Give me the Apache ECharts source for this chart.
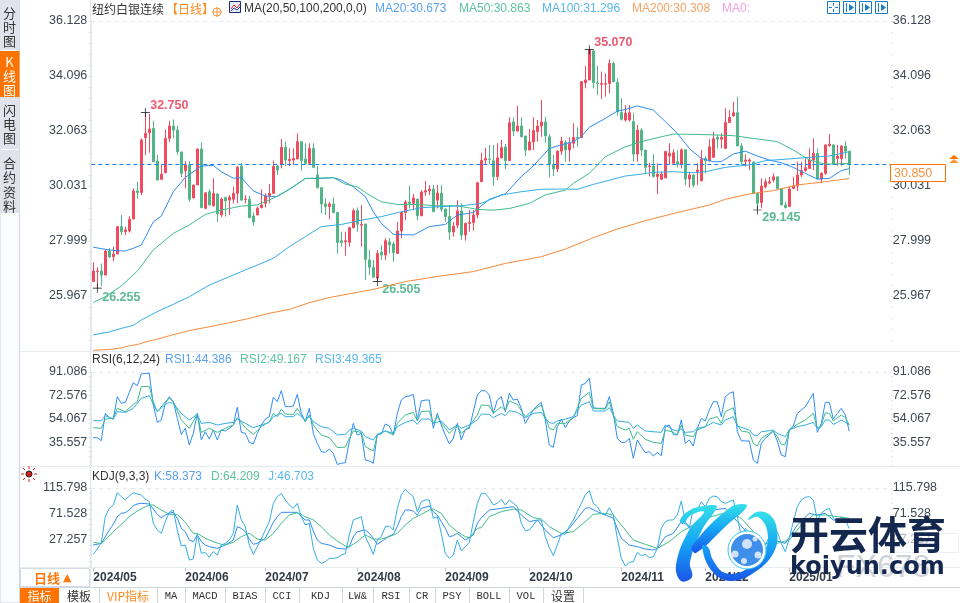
<!DOCTYPE html>
<html>
<head>
<meta charset="utf-8">
<title>纽约白银连续</title>
<style>
html, body { margin: 0; padding: 0; background: #fff; }
#chart { width: 960px; height: 603px; }
</style>
<script src="https://cdn.jsdelivr.net/npm/echarts@6/dist/echarts.min.js"></script>
</head>
<body>
<div id="chart"></div>
<script>
const monthLabels = ["2024/05", "2024/06", "2024/07", "2024/08", "2024/09", "2024/10", "2024/11", "2024/12", "2025/01"];
const monthStarts = [0, 23, 43, 66, 88, 109, 132, 153, 174];
const barCount = 200;

const priceTicks = [36.128, 34.096, 32.063, 30.031, 27.999, 25.967];
const rsiTicks = [91.086, 72.576, 54.067, 35.557];
const kdjTicks = [115.798, 71.528, 27.257];
const lastPrice = 30.85;

const opens = [
  26.50,26.87,26.89,26.74,27.63,27.42,27.52,28.53,28.34,28.37,
  28.81,29.85,29.79,31.82,32.00,32.16,30.95,30.28,30.52,31.79,
  32.25,32.10,31.29,30.60,30.81,29.59,30.07,31.40,29.21,29.82,
  29.30,29.74,28.96,29.60,29.51,29.54,29.76,30.77,29.53,29.54,
  28.92,28.96,29.23,29.39,29.67,29.76,30.77,30.81,31.46,30.97,
  30.99,31.03,31.67,31.03,30.87,31.42,30.44,29.97,29.37,29.27,
  29.37,29.05,28.01,27.97,27.95,28.49,29.12,28.58,28.63,27.30,
  27.03,26.63,27.59,27.48,27.96,27.89,27.54,28.37,29.05,29.44,
  29.39,29.55,28.93,29.81,29.86,29.92,29.51,29.77,29.18,28.90,
  28.33,28.58,29.11,28.22,28.65,28.68,28.96,30.19,30.99,31.03,
  30.96,30.38,31.07,31.47,30.97,32.40,32.06,32.25,31.88,31.36,
  31.66,32.04,32.25,32.40,31.85,30.83,30.66,31.32,31.64,31.36,
  31.61,31.83,31.82,33.85,33.95,35.02,33.84,33.79,33.79,33.82,
  34.56,33.86,32.75,32.47,32.47,32.41,31.21,32.10,31.36,30.75,
  30.77,30.38,30.28,30.33,31.14,30.87,30.93,30.83,31.37,30.29,
  30.44,30.56,30.22,31.05,30.96,31.09,31.83,31.76,31.42,32.38,
  32.62,32.74,31.51,30.95,30.95,30.91,29.76,29.42,30.00,30.14,
  30.25,30.37,29.94,29.33,29.27,29.94,30.03,30.44,30.60,30.68,
  30.99,31.24,30.29,30.50,31.52,31.55,31.05,31.05,31.51,31.32
];
const closes = [
  26.89,26.89,26.74,27.63,27.41,27.52,28.53,28.34,28.41,28.80,
  29.85,29.79,31.73,31.98,32.14,30.93,30.25,30.47,31.79,32.25,
  32.10,31.30,30.50,30.81,29.54,30.07,31.40,29.23,29.78,29.33,
  29.76,29.00,29.55,29.48,29.61,29.76,30.72,29.51,29.55,28.86,
  28.70,29.21,29.33,29.66,29.76,30.75,30.62,31.46,30.99,31.02,
  31.05,31.67,30.97,30.87,31.42,30.72,29.97,29.37,29.27,29.37,
  29.05,27.94,27.94,28.01,28.49,29.12,28.62,28.61,27.32,27.03,
  26.66,27.54,27.48,28.01,27.85,27.57,28.37,29.05,29.44,29.39,
  29.59,28.93,29.81,29.86,29.92,29.08,29.77,29.17,28.90,28.33,
  28.55,29.11,28.22,28.65,28.69,28.96,30.15,30.98,31.05,31.02,
  30.38,31.07,31.45,30.97,32.37,32.06,32.25,31.85,31.36,31.66,
  32.08,32.25,32.40,31.88,30.84,30.66,31.32,31.69,31.36,31.61,
  31.83,31.80,33.89,33.95,35.06,33.85,33.81,33.82,33.81,34.56,
  33.89,32.77,32.50,32.72,32.74,31.21,32.10,31.36,30.72,30.77,
  30.38,30.47,30.47,31.31,31.24,31.26,30.83,31.37,30.29,30.44,
  30.07,30.62,31.02,30.96,31.48,31.78,31.76,31.83,32.38,32.57,
  32.74,31.51,30.93,30.99,30.99,29.76,29.39,30.03,30.19,30.19,
  30.37,29.94,29.33,29.23,29.92,30.03,30.44,30.60,30.71,30.99,
  31.24,30.29,30.50,31.55,31.58,30.83,31.14,31.51,31.32,30.85
];
const highs = [
  27.21,27.03,27.17,27.67,27.73,27.79,28.55,28.96,28.53,28.92,
  29.94,30.19,31.79,32.75,32.70,32.44,31.18,30.81,32.12,32.44,
  32.49,32.26,31.29,30.95,30.95,30.07,31.42,31.64,29.78,29.91,
  30.32,29.74,29.61,29.64,29.70,30.01,30.77,30.89,29.70,29.66,
  29.05,29.27,29.91,29.76,30.10,30.97,30.81,31.77,31.67,31.42,
  31.42,31.98,31.67,31.61,31.61,31.61,30.77,29.97,29.58,29.45,
  29.61,29.05,28.34,28.34,28.53,29.20,29.24,29.33,28.63,27.67,
  27.30,27.67,27.85,28.10,28.10,27.97,28.71,29.05,29.51,30.04,
  29.74,29.55,29.88,30.22,30.07,30.07,30.07,30.07,29.20,29.33,
  28.71,29.51,29.39,28.68,29.14,29.14,30.19,31.26,31.45,31.55,
  31.55,31.61,31.73,31.58,32.57,32.57,32.99,32.57,31.88,32.13,
  32.57,32.47,33.21,32.59,31.95,31.18,31.36,31.85,31.73,31.83,
  32.35,32.20,33.89,34.47,35.07,35.05,34.47,34.26,34.19,34.71,
  34.63,34.01,33.27,33.02,33.02,32.74,32.29,32.16,31.36,30.89,
  31.21,30.87,30.56,31.31,31.61,31.39,31.36,31.42,31.39,30.56,
  30.46,30.87,31.36,31.12,31.76,32.04,31.92,31.98,32.90,32.84,
  33.15,33.33,31.61,31.20,31.05,30.95,29.76,30.31,30.31,30.37,
  30.50,30.37,29.94,29.45,30.01,30.37,30.93,30.93,31.05,31.42,
  31.79,31.42,30.54,31.55,31.95,31.57,31.55,31.55,31.69,31.32
];
const lows = [
  26.50,26.255,26.34,26.74,27.38,27.24,27.52,28.22,28.22,28.31,
  28.81,29.56,29.70,31.18,31.26,30.93,30.25,30.25,30.50,31.66,
  31.79,31.18,30.35,29.94,29.45,29.58,30.07,29.23,29.17,29.33,
  29.27,28.71,28.87,28.90,28.96,29.39,29.39,29.49,29.39,28.84,
  28.57,28.96,29.21,29.24,29.39,29.74,30.44,30.68,30.77,30.77,
  30.81,31.03,30.60,30.81,30.84,30.72,29.94,29.02,28.96,28.80,
  29.02,27.54,27.79,27.46,27.79,28.47,28.34,27.79,26.56,26.74,
  26.66,26.505,27.30,27.30,27.54,27.23,27.54,28.10,28.77,29.20,
  29.14,28.77,28.92,29.67,29.70,29.08,29.20,29.08,28.71,28.04,
  28.16,28.47,28.04,28.01,28.34,28.38,28.84,30.19,30.84,30.84,
  30.04,30.25,31.05,30.66,30.97,31.88,32.04,31.83,31.14,31.36,
  31.36,31.67,31.85,31.61,30.35,30.40,30.54,31.18,30.93,30.93,
  31.42,31.48,31.82,33.64,33.95,33.64,33.39,33.25,33.33,33.46,
  33.86,32.62,32.45,32.41,32.41,30.93,30.93,31.14,30.50,30.38,
  30.35,29.73,30.25,30.33,30.81,30.81,30.72,30.68,30.07,29.98,
  29.98,30.07,30.22,30.50,30.93,31.09,31.42,31.42,31.42,32.38,
  32.59,31.51,30.81,30.75,30.62,29.76,29.145,29.21,29.94,30.09,
  30.17,29.94,29.33,29.21,29.27,29.94,29.85,30.37,30.56,30.68,
  30.62,30.29,30.13,30.44,31.48,30.83,30.78,30.78,31.05,30.44
];

// moving averages at the bars in the *At arrays
const ma20At = [0,3,6,8,10,12,15,17,20,23,27,30,32,35,37,40,43,46,50,53,57,60,62,65,68,70,72,75,80,84,88,91,95,99,103,107,110,114,117,120,122,124,128,131,133,136,140,143,146,149,152,155,157,160,163,166,169,172,175,178,181,184,187,189];
const ma20 = [27.77,27.69,27.64,27.63,27.73,27.85,28.71,28.92,29.82,30.35,30.77,30.79,30.56,30.32,30.34,29.85,29.66,29.64,30.00,30.31,30.31,30.34,30.25,30.00,29.64,29.08,28.65,28.25,28.22,28.53,28.61,28.96,29.05,29.54,29.74,30.38,30.77,31.42,31.55,31.67,31.85,32.20,32.53,32.80,32.86,32.99,32.84,32.41,31.98,31.42,31.05,30.93,30.93,31.21,31.32,31.14,30.99,30.89,30.72,30.50,30.29,30.31,30.60,30.673];
const ma50At = [0,3,7,11,15,20,24,28,32,37,41,45,49,53,60,63,66,69,72,76,81,86,91,96,100,104,109,113,118,120,124,128,133,137,142,145,150,155,160,165,171,175,179,183,189];
const ma50 = [25.73,25.94,26.34,26.89,27.67,28.28,28.59,28.98,29.14,29.29,29.33,29.58,29.91,30.31,30.34,30.10,30.00,29.70,29.45,29.35,29.35,29.30,29.30,29.17,29.14,29.20,29.39,29.70,29.88,30.13,30.50,31.11,31.48,31.67,31.85,31.95,31.94,31.92,31.89,31.79,31.67,31.36,30.99,30.84,30.863];
const ma100At = [0,4,7,10,12,16,20,24,29,34,38,41,45,49,53,57,62,67,72,77,82,87,92,97,102,107,112,117,121,125,133,137,140,145,150,153,158,164,168,173,179,184,189];
const ma100 = [24.53,24.64,24.77,24.88,25.08,25.39,25.66,25.94,26.37,26.68,26.93,27.11,27.36,27.79,28.16,28.53,28.61,28.77,28.90,29.08,29.23,29.27,29.30,29.39,29.70,29.82,29.91,29.92,29.91,30.09,30.40,30.47,30.54,30.56,30.52,30.56,30.72,30.81,30.97,31.02,31.09,31.14,31.296];
const ma200At = [0,4,7,9,11,13,16,19,24,29,34,39,44,49,54,59,67,70,78,87,95,103,112,118,125,131,138,146,154,158,164,170,176,183,189];
const ma200 = [23.96,23.99,24.05,24.13,24.17,24.27,24.37,24.50,24.69,24.83,24.98,25.14,25.33,25.47,25.72,25.91,26.13,26.21,26.50,26.71,26.87,27.17,27.42,27.70,28.12,28.44,28.75,29.05,29.33,29.54,29.74,29.86,30.07,30.19,30.308];

const rsi1 = [
  39.2,39.2,36.8,58.4,55.0,53.9,71.6,66.3,67.1,75.0,
  82.6,80.3,89.5,90.0,90.0,65.0,51.3,53.2,66.3,71.6,
  67.6,54.5,41.8,46.6,33.4,42.6,58.4,37.4,43.9,38.1,
  45.3,37.4,45.3,44.5,46.6,49.2,63.2,43.4,42.6,35.5,
  34.2,42.6,49.2,53.9,55.8,71.1,67.6,76.3,63.7,63.7,
  64.2,73.4,58.4,51.8,62.4,42.6,34.7,28.1,27.6,30.2,
  26.8,18.1,18.9,19.5,36.0,50.5,41.3,42.6,21.6,20.8,
  18.9,41.8,42.1,50.0,48.4,41.3,58.4,68.9,71.6,72.1,
  73.4,53.2,68.2,68.9,68.9,46.6,58.4,49.2,41.3,34.2,
  38.7,50.5,37.4,45.8,46.6,59.7,72.9,76.3,76.3,72.9,
  58.4,68.9,71.6,59.7,74.2,68.9,69.7,62.4,50.5,55.8,
  61.1,64.5,67.1,53.2,33.4,31.6,47.9,53.9,47.1,52.4,
  55.0,56.6,80.8,82.1,86.1,62.9,62.4,62.4,62.4,71.6,
  58.4,38.7,35.5,35.5,38.7,22.9,37.4,32.1,27.4,28.1,
  24.7,27.6,25.0,47.9,49.2,41.8,41.3,53.2,34.7,37.4,
  32.6,46.6,54.5,52.4,61.1,67.6,67.6,55.8,71.6,74.2,
  75.5,43.9,36.8,36.6,36.6,21.6,18.9,34.7,38.7,41.3,
  44.5,36.6,25.5,24.2,45.3,48.4,58.4,61.1,63.7,68.9,
  74.2,43.4,50.5,67.1,67.1,53.9,58.4,62.4,57.1,44.386
];
const rsi2At = [0,2,3,5,6,8,10,11,12,14,15,16,18,19,20,22,24,26,27,29,31,33,35,36,38,40,42,44,45,46,47,48,50,51,53,54,55,57,59,61,63,64,65,67,68,70,71,73,75,76,78,80,81,82,84,85,86,88,89,91,92,94,96,97,99,100,102,103,104,106,108,110,112,113,114,115,116,118,120,122,124,125,128,129,130,131,133,134,135,136,138,140,142,143,145,146,147,148,150,151,153,154,156,157,158,160,161,162,164,165,166,167,169,170,171,172,173,174,176,178,180,181,182,183,184,185,186,187,188,189];
const rsi2 = [47.1,46.6,53.9,54.5,62.4,59.7,65.5,67.6,79.5,79.8,67.6,59.7,67.6,70.3,67.6,53.2,46.6,57.6,43.4,46.6,43.4,46.6,49.2,55.0,47.1,41.8,47.9,51.8,58.4,55.8,61.8,57.9,57.6,62.4,51.8,57.1,49.2,41.3,39.2,31.3,31.8,38.7,44.5,43.4,32.1,28.7,41.3,44.5,41.3,50.5,57.1,59.2,52.4,59.7,60.3,50.5,55.8,46.6,42.6,49.2,42.6,47.9,57.1,65.0,64.5,58.4,63.7,60.5,68.2,65.5,55.8,61.1,65.0,55.8,46.6,45.3,50.5,50.5,55.0,70.3,75.0,62.4,61.8,67.6,57.1,47.9,45.3,46.6,37.9,43.9,37.9,35.5,34.7,45.3,43.4,41.3,49.2,41.3,40.0,45.3,47.9,53.9,55.8,50.5,59.7,62.9,49.2,44.5,43.4,34.7,32.6,38.7,42.6,44.5,40.0,33.9,33.9,45.3,49.7,53.2,58.4,46.6,49.2,58.9,58.4,52.4,55.0,57.1,55.0,49.167];
const rsi3At = [0,2,3,5,6,8,10,12,14,15,16,18,19,20,22,24,26,27,29,31,33,35,36,38,40,42,44,45,47,48,50,51,53,54,55,57,59,61,63,64,65,67,68,70,71,73,75,76,78,80,81,82,84,85,87,88,89,91,92,94,96,97,99,100,102,103,104,106,108,110,112,113,114,115,116,118,120,122,124,125,128,129,130,131,134,135,136,138,140,142,143,145,146,147,148,150,151,153,155,157,158,160,161,162,164,165,166,167,169,170,171,173,174,176,178,180,181,182,183,184,185,186,187,188,189];
const rsi3 = [52.6,52.6,56.6,53.9,59.7,59.2,62.4,70.3,72.4,65.5,59.7,65.5,67.1,66.3,58.4,53.2,57.6,50.5,51.3,49.2,50.5,51.3,53.9,50.5,47.1,49.2,51.3,55.8,58.4,55.8,55.8,58.4,53.2,55.8,51.8,47.9,46.6,41.3,41.8,45.3,46.6,44.5,40.0,37.4,41.8,44.5,42.6,47.9,51.3,53.2,49.7,53.9,53.9,50.5,52.4,49.2,45.3,49.2,46.6,49.2,53.2,57.9,57.6,55.0,58.4,56.6,60.5,59.2,55.0,58.4,59.2,54.5,51.1,50.5,52.4,53.9,55.8,65.0,67.6,60.3,60.3,62.9,57.1,52.4,51.3,46.6,49.2,44.5,43.9,43.4,49.2,45.3,44.5,46.0,43.4,43.9,46.6,47.9,51.3,49.2,53.2,55.8,48.4,47.4,45.3,41.3,40.8,43.9,44.7,45.3,42.6,40.0,45.3,47.9,49.2,51.3,46.6,47.9,53.2,53.2,49.7,51.3,53.2,51.3,49.365];

const kdjJ = [
  2.8,11.9,23.3,67.0,81.2,86.9,107.8,101.0,95.4,102.2,
  107.8,105.6,103.9,97.1,92.5,55.6,44.3,38.6,58.5,74.4,
  78.3,44.3,17.0,18.7,-6.8,-5.1,36.9,4.5,6.2,-2.3,
  7.4,1.7,18.7,21.6,27.3,38.6,86.9,61.3,50.0,18.7,
  2.8,15.9,28.9,44.3,58.5,89.7,101.0,106.7,95.4,86.9,
  81.2,89.7,67.0,52.8,55.6,13.1,-6.8,-12.5,-9.6,-4.0,
  -4.0,-2.8,1.7,4.5,35.8,61.3,64.2,67.0,32.9,18.7,
  2.8,27.2,32.9,50.0,51.1,44.3,81.2,103.9,113.5,106.7,
  101.0,75.5,92.5,95.4,95.4,64.2,67.0,38.6,4.5,-4.0,
  1.7,27.2,8.5,15.9,23.3,58.5,89.7,106.7,106.7,98.2,
  86.9,89.7,96.5,86.9,95.4,89.7,84.0,55.6,43.1,44.3,
  52.8,61.3,61.3,32.9,14.2,0.6,18.7,38.6,36.9,50.0,
  61.3,75.5,89.7,103.9,111.2,89.7,84.0,72.7,69.8,82.3,
  69.8,30.1,-4.0,-17.0,-10.8,-9.6,6.2,0.6,2.8,-2.8,
  -1.1,13.1,47.1,58.5,61.3,61.3,69.8,93.7,58.5,47.1,
  81.2,78.3,92.5,84.0,98.2,102.2,101.0,92.5,89.7,92.5,
  95.4,67.0,32.9,47.1,38.6,15.9,-1.1,10.2,18.7,32.9,
  47.1,41.4,21.6,7.4,30.1,58.5,84.0,95.4,100.0,101.0,
  95.4,61.3,72.7,78.3,81.2,64.2,58.5,67.0,61.3,46.703
];
const kdjKAt = [0,2,3,4,5,6,7,8,9,10,11,12,14,15,16,17,18,19,20,21,22,23,24,25,26,27,28,29,31,33,35,36,37,38,39,40,41,43,45,46,47,49,51,52,53,54,55,56,57,59,61,63,64,65,66,68,69,70,71,72,74,75,76,77,78,79,80,81,82,84,85,86,87,88,89,90,91,93,95,96,97,99,102,105,107,109,111,113,115,117,119,121,123,124,126,128,130,132,134,136,138,140,141,143,145,147,150,155,158,161,164,167,170,173,176,179,181,183,185,187,189];
const kdjK = [18.7,21.6,32.9,44.3,53.9,67.0,72.7,73.8,78.3,85.7,88.6,89.7,88.6,80.0,70.9,65.3,69.8,72.7,74.4,64.2,47.1,41.4,27.2,24.4,35.8,24.4,18.7,15.9,13.1,18.7,27.2,50.0,47.1,41.4,28.9,19.9,21.6,30.1,57.3,67.0,74.4,74.4,74.4,67.0,61.3,61.3,42.6,27.2,21.6,18.7,13.1,11.9,15.9,32.9,41.4,44.3,38.6,30.1,19.9,24.4,34.1,36.9,50.0,67.0,78.3,78.3,76.6,69.8,81.2,85.1,75.5,69.8,58.5,47.1,32.9,34.6,38.6,27.2,35.8,55.6,65.3,78.3,81.2,84.0,69.8,58.5,61.3,44.3,31.2,35.8,47.1,64.2,81.2,82.3,75.5,69.8,64.2,30.1,18.7,15.9,11.9,10.2,13.1,32.9,38.6,58.5,47.1,78.3,81.2,58.5,35.8,15.9,27.2,21.6,52.8,72.7,69.8,72.7,61.3,61.3,58.373];
const kdjDAt = [0,2,3,5,7,9,11,13,14,15,17,19,21,23,25,26,28,30,32,33,35,37,39,41,43,45,47,49,51,53,55,57,59,61,63,64,66,68,70,72,74,76,78,80,82,84,85,87,89,91,93,94,96,97,99,102,105,107,110,112,114,117,120,123,125,128,130,132,135,138,141,144,147,150,153,156,159,162,165,168,171,174,177,180,183,186,189];
const kdjD = [23.3,21.0,27.2,41.4,53.9,67.0,76.6,84.0,86.9,86.9,78.3,70.9,70.9,57.3,38.6,38.6,30.1,24.4,19.9,18.7,23.3,33.0,38.6,28.9,27.2,38.6,55.6,69.8,73.8,67.0,61.3,50.0,35.8,25.5,17.0,15.9,24.4,35.8,28.9,28.9,33.0,38.6,52.8,64.2,70.9,78.3,80.0,72.7,52.8,41.4,33.0,31.2,47.1,48.3,67.0,75.5,80.0,78.3,65.3,63.0,50.0,38.6,41.4,58.5,70.9,72.7,69.8,52.8,27.2,19.9,13.1,24.4,41.4,52.8,64.2,69.8,75.5,64.2,41.4,21.6,21.6,27.2,52.8,69.8,69.8,67.0,64.209];

const RED = "#ee4c5e";
const GREEN = "#50b587";
const BLUE = "#2e8cf4";
const TEAL = "#3fbd8a";
const SKY = "#33ade6";
const ORANGE = "#f68a3a";
const BRAND = "#ff7300";
const FONT = "'Liberation Sans','Noto Sans CJK SC',sans-serif";

const categories = [];
for (let i = 0; i < barCount; i++) {
  const m = monthStarts.indexOf(i);
  categories.push(m >= 0 ? monthLabels[m] : "");
}

function pairs(at, values) {
  return at.map((x, i) => [x, values[i]]);
}

function lineSeries(name, data, color, axis) {
  return {
    name, type: "line", data, xAxisIndex: axis.x, yAxisIndex: axis.y,
    symbol: "none", animation: false, silent: true, z: 5,
    lineStyle: { color, width: 1 }
  };
}

// tick marks between the labelled values
function tickValues(labels, min, max) {
  const step = (labels[0] - labels[1]) / 5;
  const out = [];
  for (let v = labels[0]; v >= min; v -= step) out.push(v);
  return out.filter(v => v <= max);
}

function yAxisFor(gridIndex, position, min, max, labels) {
  const left = position === "left";
  return {
    type: "value", gridIndex, position, min, max, scale: true, splitLine: { show: false },
    axisLine: { show: left, onZero: false, lineStyle: { color: "#e3e9ef" } },
    axisTick: { show: true, length: left ? 2 : 1, customValues: tickValues(labels, min, max), lineStyle: { color: "#c5ccd6" } },
    axisLabel: {
      customValues: labels, margin: left ? 4 : 1.5, color: "#3f4754", fontSize: 12.5, fontFamily: FONT,
      formatter: v => v.toFixed(3), showMinLabel: true, showMaxLabel: true
    }
  };
}

function xAxisFor(gridIndex, showLabels) {
  return {
    type: "category", gridIndex, data: categories, boundaryGap: true,
    axisLine: { show: showLabels, onZero: false, lineStyle: { color: "#dde3ea" } },
    axisTick: { show: showLabels, alignWithLabel: true, length: 4, interval: (i, v) => v !== "", lineStyle: { color: "#b8c0cb" } },
    splitLine: { show: false },
    axisLabel: {
      show: showLabels, interval: 0, hideOverlap: false, align: "left", margin: 5,
      color: "#333a45", fontSize: 12, fontWeight: "bold", fontFamily: FONT
    }
  };
}

// extreme price marker: small cross on the bar, value beside it
function extreme(i, value, color, offset) {
  return {
    coord: [i, value],
    symbol: "path://M0 4.6H10V5.4H0ZM4.6 0H5.4V10H4.6Z",
    symbolSize: 9,
    itemStyle: { color: "#111" },
    label: {
      show: true, formatter: value.toFixed(3), position: "inside", offset,
      color, fontSize: 12.5, fontWeight: "bold", fontFamily: FONT
    }
  };
}

function txt(x, y, text, fill, extra, z) {
  return {
    type: "text", x, y, z: z || 20, silent: true,
    style: Object.assign({ text, fill: fill || "#333", font: "12px " + FONT, textVerticalAlign: "middle", textAlign: "left" }, extra || {})
  };
}
function box(x, y, w, h, fill, stroke, z) {
  return { type: "rect", z: z || 15, silent: true, shape: { x, y, width: w, height: h }, style: { fill: fill || "none", stroke: stroke || "none", lineWidth: 1 } };
}
function seg(x1, y1, x2, y2, stroke, dash, z) {
  return { type: "line", z: z || 4, silent: true, shape: { x1, y1, x2, y2 }, style: { stroke, lineWidth: 1, lineDash: dash || null } };
}

const elements = [];

// left tabs
elements.push(box(0, 0, 19.5, 603, "#fbfcfd", "#cfd6e0", 14));
[[0, 50], [97, 52], [150, 63]].forEach(t => elements.push(box(0, t[0], 19.5, t[1], "#e1e3ec", null)));
elements.push(box(0, 51, 19.5, 46, BRAND));
[["分", 13], ["时", 27], ["图", 41], ["闪", 110], ["电", 124], ["图", 138], ["合", 163], ["约", 177], ["资", 192], ["料", 206]]
  .forEach(c => elements.push(txt(9.5, c[1], c[0], "#333", { textAlign: "center", font: "13px 'Noto Sans CJK SC'" })));
[["K", 62], ["线", 76], ["图", 90]]
  .forEach(c => elements.push(txt(9.5, c[1], c[0], "#fff", { textAlign: "center", font: "13px 'Noto Sans CJK SC'" })));

// pane rules
elements.push(seg(90.5, 0, 90.5, 587, "#e3e9ef"));
[351.5, 466.5, 567.5].forEach(y => elements.push(seg(20, y, 960, y, "#e6ebf0")));
elements.push(seg(20, 587.5, 960, 587.5, "#cfd6e0"));
[21.5, 372.5, 488.5].forEach(y => elements.push(seg(91, y, 890, y, "#e6e9ee", [4, 4])));

// main legend
elements.push(txt(92, 9, "纽约白银连续", "#333", { font: "12px 'Noto Sans CJK SC'" }));
elements.push(txt(166, 9, "【日线】", "#ff8a1e", { font: "12px 'Noto Sans CJK SC'" }));
elements.push({ type: "circle", z: 20, silent: true, shape: { cx: 217, cy: 12, r: 4 }, style: { fill: "none", stroke: "#f39a3c" } });
elements.push(seg(212, 12, 222, 12, "#f39a3c", null, 20), seg(217, 7, 217, 17, "#f39a3c", null, 20));
elements.push(box(229.5, 1.5, 11, 11, "#e9edf6", "#1b2a78", 20));
elements.push({ type: "polyline", z: 21, silent: true, shape: { points: [[231, 9], [234, 5], [237, 8], [240, 4]] }, style: { stroke: "#d8262f", fill: "none" } });
elements.push({ type: "polyline", z: 21, silent: true, shape: { points: [[231, 11], [234, 8], [237, 10], [240, 7]] }, style: { stroke: "#1f45b8", fill: "none" } });
elements.push(txt(244, 9, "MA(20,50,100,200,0,0)", "#333"));
elements.push(txt(375, 9, "MA20:30.673", "#5aa2ef"));
elements.push(txt(459, 9, "MA50:30.863", "#5cc39b"));
elements.push(txt(542, 9, "MA100:31.296", "#57b8ea"));
elements.push(txt(632, 9, "MA200:30.308", "#f6a263"));
elements.push(txt(722, 9, "MA0:", "#f2a0de"));

// RSI and KDJ legends
elements.push(txt(92, 360, "RSI(6,12,24)", "#333"));
elements.push(txt(165, 360, "RSI1:44.386", "#5aa2ef"));
elements.push(txt(240, 360, "RSI2:49.167", "#5cc39b"));
elements.push(txt(315, 360, "RSI3:49.365", "#57b8ea"));
elements.push(txt(92, 477, "KDJ(9,3,3)", "#333"));
elements.push(txt(154, 477, "K:58.373", "#5aa2ef"));
elements.push(txt(211, 477, "D:64.209", "#5cc39b"));
elements.push(txt(268, 477, "J:46.703", "#57b8ea"));

// tool buttons, top right
[827, 843, 859, 875].forEach((x, n) => {
  elements.push(box(x + 0.5, 1.5, 12, 12, "#fff", "#1a7cc4", 20));
  if (n === 0) {
    elements.push(seg(x + 2, 7.5, x + 5, 7.5, "#1a7cc4", null, 21), seg(x + 8, 7.5, x + 11, 7.5, "#1a7cc4", null, 21));
    elements.push(seg(x + 6.5, 3, x + 6.5, 6, "#1a7cc4", null, 21), seg(x + 6.5, 9, x + 6.5, 12, "#1a7cc4", null, 21));
  } else {
    elements.push(seg(x + 3.5, 3, x + 3.5, 12, "#1a7cc4", null, 21));
    elements.push({ type: "polygon", z: 21, silent: true, shape: { points: [[x + 6, 4], [x + 11, 7.5], [x + 6, 11]] }, style: { fill: "#1a7cc4" } });
  }
});

// last price tag
elements.push(box(890.5, 164.5, 55, 17, "#fff", BRAND, 22));
elements.push(txt(894, 173.5, lastPrice.toFixed(3), "#f5923a", { font: "12.5px " + FONT }, 23));
elements.push({ type: "polygon", z: 22, silent: true, shape: { points: [[949, 159], [954, 155], [959, 159]] }, style: { fill: BRAND } });
elements.push({ type: "polygon", z: 22, silent: true, shape: { points: [[949, 163], [954, 159], [959, 163]] }, style: { fill: "#ff9a3c" } });

// KDJ sun icon
elements.push({ type: "circle", z: 20, silent: true, shape: { cx: 29, cy: 474, r: 3 }, style: { fill: "#d81e1e", stroke: "#222" } });
[[21, 474, 24, 474], [34, 474, 37, 474], [29, 466, 29, 469], [29, 479, 29, 482], [23, 468, 25, 470], [33, 478, 35, 480], [35, 468, 33, 470], [25, 478, 23, 480]]
  .forEach(r => elements.push(seg(r[0], r[1], r[2], r[3], "#e02424", null, 20)));

// period selector and bottom tabs
elements.push(box(20.5, 568.5, 69, 18, "#fff", "#d5dbe3", 15));
elements.push(txt(34, 578, "日线", "#ff7a0d", { font: "bold 13px 'Noto Sans CJK SC'" }));
elements.push(txt(63, 578, "▲", "#ff7a0d", { font: "11px 'DejaVu Sans'" }));
const tabs = [["指标", 20, 59], ["模板", 59, 99], ["VIP指标", 99, 157], ["MA", 157, 185], ["MACD", 185, 225], ["BIAS", 225, 265], ["CCI", 265, 299], ["KDJ", 299, 342], ["LW&", 342, 373], ["RSI", 373, 409], ["CR", 409, 435], ["PSY", 435, 469], ["BOLL", 469, 509], ["VOL", 509, 543], ["设置", 543, 583]];
tabs.forEach((t, n) => {
  if (n === 0) elements.push(box(t[1], 588, t[2] - t[1], 15, BRAND));
  else elements.push(seg(t[2] + 0.5, 588, t[2] + 0.5, 603, "#cfd6e0", null, 15));
  const cjk = /[^\x00-\x7f]/.test(t[0]);
  elements.push(txt((t[1] + t[2]) / 2, 596, t[0], n === 0 ? "#fff" : n === 2 ? "#ff8a1e" : "#333", {
    textAlign: "center", font: (cjk ? "12px 'Noto Sans CJK SC'" : "10.5px 'Liberation Mono','Noto Sans CJK SC'")
  }));
});

// watermark over the KDJ pane
const wz = 60;
const blueFill = new echarts.graphic.LinearGradient(0, 0, 0, 1, [{ offset: 0, color: "#35e0e8" }, { offset: 0.5, color: "#16a4f5" }, { offset: 1, color: "#1a56e8" }]);
elements.push(txt(836, 568, "FX678", "#cfd2d8", { font: "32px " + FONT }, wz));
elements.push(box(892.5, 533.5, 66, 19, "rgba(255,255,255,0.6)", "#eceff3", 16));
[[[680, 520], [690, 510], [712, 505], [717, 507], [702, 530], [690, 562], [692, 577], [681, 581], [676, 565], [689, 530], [704, 512], [691, 515], [683, 524]],
 [[747, 506], [731, 507], [692, 546], [696, 553], [726, 526]],
 [[702, 546], [711, 570], [730, 581], [755, 572], [774, 552], [777, 530], [770, 515], [757, 512], [748, 520], [758, 517], [767, 530], [765, 550], [745, 570], [725, 573], [713, 560], [708, 547]]
].forEach(points => {
  elements.push({ type: "polygon", z: wz, silent: true, shape: { points, smooth: 0.4 }, style: { fill: blueFill } });
});
elements.push({ type: "circle", z: wz, silent: true, shape: { cx: 747, cy: 550, r: 19 }, style: { fill: "#fff", stroke: "#35c8f0", lineWidth: 1 } });
elements.push({ type: "circle", z: wz + 1, silent: true, shape: { cx: 747, cy: 550, r: 16 }, style: { fill: "#3f8fea" } });
[[747, 544, 5], [735, 554, 3.5], [758, 555, 3.5], [744, 561, 3], [755, 539, 2.5]].forEach(c => {
  elements.push({ type: "circle", z: wz + 2, silent: true, shape: { cx: c[0], cy: c[1], r: c[2] }, style: { fill: "rgba(255,255,255,0.75)" } });
});
elements.push(txt(790, 534, "开云体育", "#14274e", { font: "bold 39px 'Noto Sans CJK SC'" }, wz + 3));
elements.push(txt(790, 568, "koiyun.com", "#14274e", { font: "bold 24px 'DejaVu Sans'" }, wz + 3));

const chart = echarts.init(document.getElementById("chart"));
chart.setOption({
  animation: false,
  backgroundColor: "#fff",
  textStyle: { fontFamily: FONT },
  grid: [
    { left: 91.3, width: 800, top: 21, height: 330 },
    { left: 91.3, width: 800, top: 372, height: 94 },
    { left: 91.3, width: 800, top: 488, height: 79 }
  ],
  xAxis: [xAxisFor(0, false), xAxisFor(1, false), xAxisFor(2, true)],
  yAxis: [
    yAxisFor(0, "left", 23.935, 36.128, priceTicks), yAxisFor(0, "right", 23.935, 36.128, priceTicks),
    yAxisFor(1, "left", 16.83, 91.086, rsiTicks), yAxisFor(1, "right", 16.83, 91.086, rsiTicks),
    yAxisFor(2, "left", -18.7, 115.798, kdjTicks), yAxisFor(2, "right", -18.7, 115.798, kdjTicks)
  ],
  series: [
    {
      name: "K", type: "candlestick", xAxisIndex: 0, yAxisIndex: 0, barWidth: 3, silent: true, z: 3,
      data: opens.map((o, i) => [o, closes[i], lows[i], highs[i]]),
      itemStyle: { color: RED, color0: GREEN, borderColor: RED, borderColor0: GREEN, borderWidth: 1 },
      markLine: {
        silent: true, symbol: "none", animation: false,
        lineStyle: { color: "#1a7ff0", type: [4, 3], width: 1 }, label: { show: false },
        data: [{ yAxis: lastPrice }]
      },
      markPoint: {
        silent: true, animation: false,
        data: [
          extreme(13, 32.75, "#ee5a70", [24, -7]),
          extreme(1, 26.255, "#5cba92", [24, 9]),
          extreme(124, 35.07, "#ee5a70", [24, -7]),
          extreme(71, 26.505, "#5cba92", [24, 8]),
          extreme(166, 29.145, "#5cba92", [24, 8])
        ]
      }
    },
    lineSeries("MA20", pairs(ma20At, ma20), BLUE, { x: 0, y: 0 }),
    lineSeries("MA50", pairs(ma50At, ma50), TEAL, { x: 0, y: 0 }),
    lineSeries("MA100", pairs(ma100At, ma100), SKY, { x: 0, y: 0 }),
    lineSeries("MA200", pairs(ma200At, ma200), ORANGE, { x: 0, y: 0 }),
    lineSeries("RSI1", rsi1, BLUE, { x: 1, y: 2 }),
    lineSeries("RSI2", pairs(rsi2At, rsi2), TEAL, { x: 1, y: 2 }),
    lineSeries("RSI3", pairs(rsi3At, rsi3), SKY, { x: 1, y: 2 }),
    lineSeries("K", pairs(kdjKAt, kdjK), BLUE, { x: 2, y: 4 }),
    lineSeries("D", pairs(kdjDAt, kdjD), TEAL, { x: 2, y: 4 }),
    lineSeries("J", kdjJ, SKY, { x: 2, y: 4 })
  ],
  graphic: { elements }
});
</script>
</body>
</html>
